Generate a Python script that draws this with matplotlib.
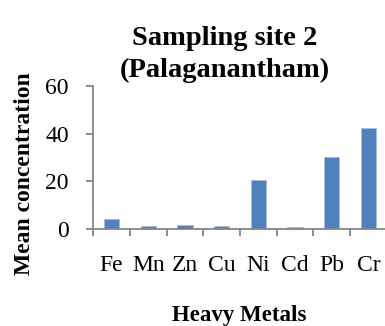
import matplotlib
matplotlib.use("Agg")
import matplotlib.pyplot as plt
import numpy as np

metals = ["Fe", "Mn", "Zn", "Cu", "Ni", "Cd", "Pb", "Cr"]
values = [4.1, 1.2, 1.8, 1.2, 20.6, 0.9, 30.4, 42.4]
yticks = [0, 20, 40, 60]

plt.rcParams['font.family'] = ['Liberation Serif', 'DejaVu Serif']

W, H = 385, 326
fig = plt.figure(figsize=(W / 100, H / 100), dpi=100)
ax = fig.add_axes([93.3 / W, 97 / H, 293.4 / W, 143 / H])

x = np.arange(len(metals))
ax.bar(x, values, width=0.41, color="#4F81BD", edgecolor="#A8C0E0", linewidth=0.6, zorder=2)

ax.set_xlim(-0.5, len(metals) - 0.5)
ax.set_ylim(0, 60)
ax.set_yticks(yticks)
ax.set_yticklabels([str(v) for v in yticks])

ax.set_xticks(np.arange(-0.5, len(metals), 1.0))
ax.set_xticklabels([])
ax.set_xticks(x, minor=True)
ax.set_xticklabels(metals, minor=True)

gray = "#868686"
for s in ["top", "right"]:
    ax.spines[s].set_visible(False)
for s in ["left", "bottom"]:
    ax.spines[s].set_color(gray)
    ax.spines[s].set_linewidth(1.3)

ax.tick_params(axis="y", direction="out", length=5, width=1.3, color=gray,
               labelsize=17, pad=12.5)
ax.tick_params(axis="x", which="major", direction="out", length=5, width=1.3, color=gray)
ax.tick_params(axis="x", which="minor", length=0, labelsize=17, pad=19)

fig.text(224.5 / W, (H - 45) / H, "Sampling site 2", ha="center", va="baseline",
         fontsize=20.5, fontweight="bold")
fig.text(224.5 / W, (H - 77) / H, "(Palaganantham)", ha="center", va="baseline",
         fontsize=20.5, fontweight="bold")
fig.text(239 / W, (H - 315) / H, "Heavy Metals", ha="center", va="center",
         fontsize=16.5, fontweight="bold")
fig.text(25 / W, (H - 174) / H, "Mean concentration", ha="center", va="center",
         rotation=90, fontsize=17, fontweight="bold")

fig.savefig("out.png", dpi=100)
